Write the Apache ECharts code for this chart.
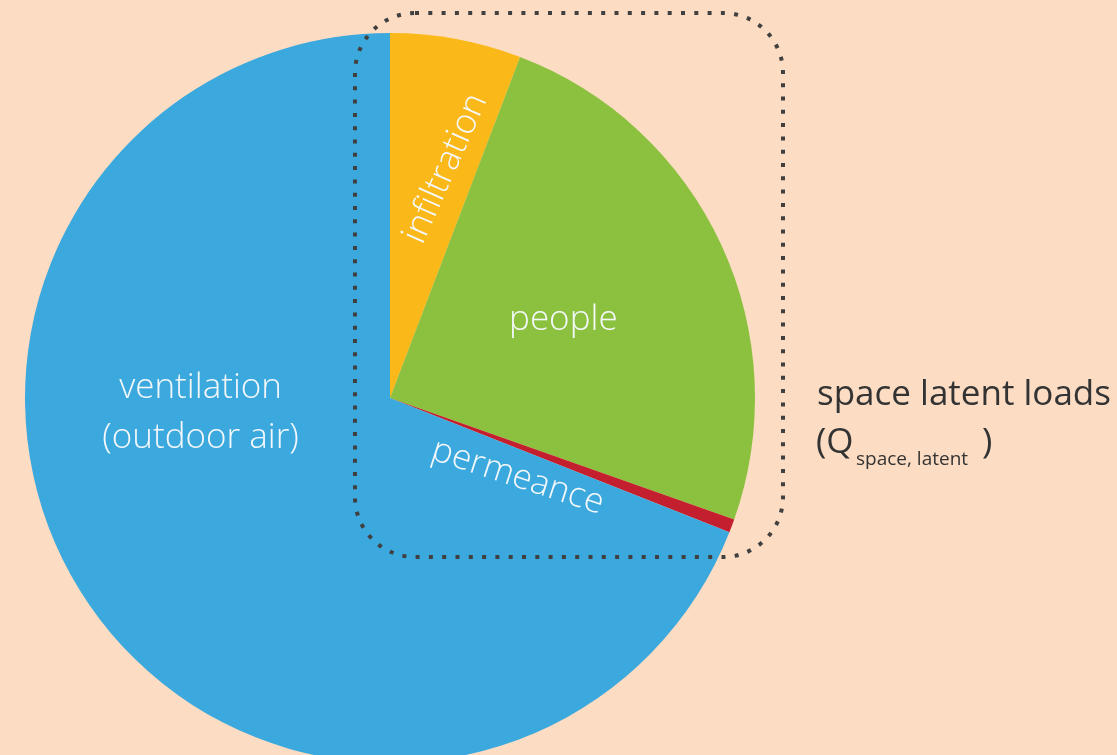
<!DOCTYPE html>
<html>
<head>
<meta charset="utf-8">
<title>Latent load breakdown</title>
<script src="https://cdn.jsdelivr.net/npm/echarts@6/dist/echarts.min.js"></script>
<style>
  html, body { margin: 0; padding: 0; background: #fcdcc2; }
  #chart { width: 1117px; height: 755px; }
</style>
</head>
<body>
<div id="chart"></div>
<script>
// Latent load components, as shares of the total (%)
const categories = ['infiltration', 'people', 'permeance', 'ventilation'];
const shares = [5.8, 24.6, 0.6, 69.0];
const sliceLabels = ['infiltration', 'people', 'permeance', 'ventilation\n(outdoor air)'];
const sliceColors = ['#fbb819', '#8bc13f', '#c41f2e', '#3ba8de'];

// Per-slice label tweaks: rotation (deg) and screen-space nudge from the default inside spot
const labelRotate = [66, 0, -18, 0];
const labelNudge = [[22, -47], [5, 0], [-46, 14], [-36, -89]];

const boxText = 'space latent loads';

const chart = echarts.init(document.getElementById('chart'), null, { renderer: 'canvas' });

const data = categories.map((name, i) => ({
  name: name,
  value: shares[i],
  itemStyle: { color: sliceColors[i] },
  label: {
    formatter: sliceLabels[i],
    rotate: labelRotate[i]
  }
}));

const labelFont = '"Open Sans", "Liberation Sans", sans-serif';

// dx/dy of a rotated label act in the label's own frame; turn a screen nudge into that frame
function toLabelFrame(sx, sy, deg) {
  const t = deg * Math.PI / 180;
  const c = Math.cos(t), s = Math.sin(t);
  return { dx: sx * c - sy * s, dy: sx * s + sy * c };
}

chart.setOption({
  backgroundColor: '#fcdcc2',
  animation: false,
  series: [{
    type: 'pie',
    center: [390, 398],
    radius: 365,
    startAngle: 90,
    clockwise: true,
    silent: true,
    avoidLabelOverlap: false,
    itemStyle: { borderWidth: 0 },
    label: {
      show: true,
      position: 'inside',
      color: '#f4f8fb',
      fontFamily: labelFont,
      fontWeight: 300,
      fontSize: 35,
      lineHeight: 50,
      align: 'center'
    },
    labelLine: { show: false },
    labelLayout: function (params) {
      const i = params.dataIndex;
      const n = labelNudge[i];
      return toLabelFrame(n[0], n[1], labelRotate[i]);
    },
    data: data
  }],
  graphic: [
    {
      type: 'rect',
      z: 100,
      silent: true,
      shape: { x: 355, y: 13, width: 428, height: 544, r: 60 },
      style: {
        fill: 'none',
        stroke: '#404040',
        lineWidth: 4,
        lineDash: [4, 9.3]
      }
    },
    {
      type: 'text',
      z: 100,
      left: 817,
      top: 378,
      style: {
        text: boxText,
        fill: '#333333',
        font: '400 35px ' + labelFont
      }
    },
    {
      type: 'text',
      z: 100,
      left: 816,
      top: 426,
      style: {
        text: '(Q',
        fill: '#333333',
        font: '400 35px ' + labelFont
      }
    },
    {
      type: 'text',
      z: 100,
      left: 856,
      top: 450,
      style: {
        text: 'space, latent',
        fill: '#333333',
        font: '400 19px ' + labelFont
      }
    },
    {
      type: 'text',
      z: 100,
      left: 982,
      top: 426,
      style: {
        text: ')',
        fill: '#333333',
        font: '400 35px ' + labelFont
      }
    }
  ]
});
</script>
</body>
</html>
